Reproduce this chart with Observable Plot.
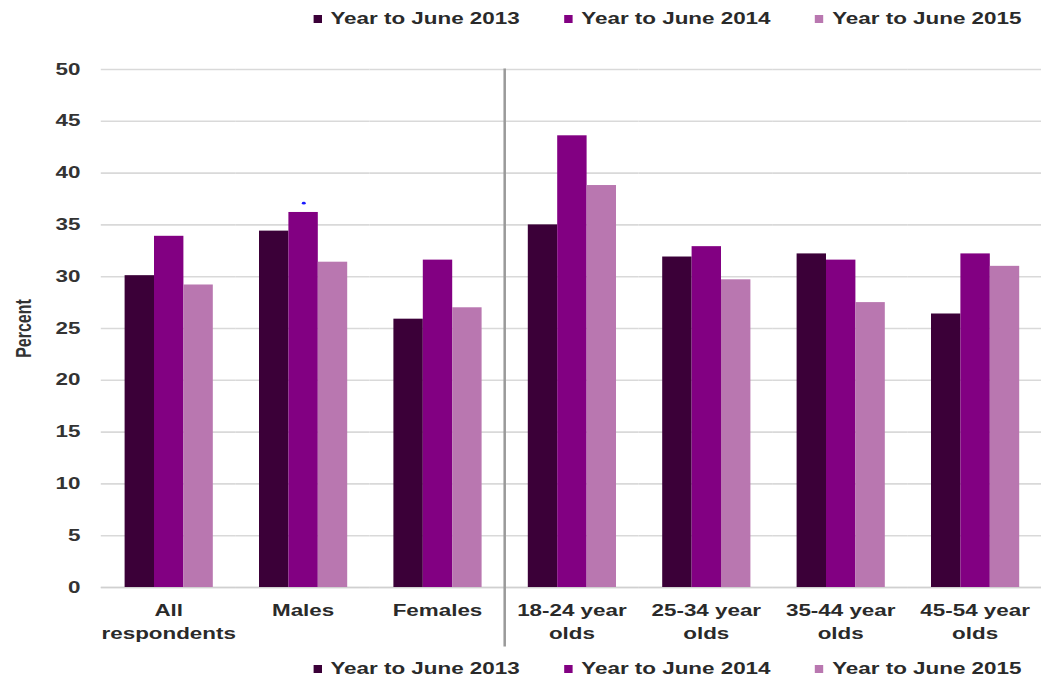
<!DOCTYPE html>
<html>
<head>
<meta charset="utf-8">
<script src="https://cdn.jsdelivr.net/npm/d3@7"></script>
<script src="https://cdn.jsdelivr.net/npm/@observablehq/plot@0.6"></script>
<style>
  html, body { margin: 0; padding: 0; background: #fff; overflow: hidden; width: 1041px; height: 681px; }
  #stage { width: 744px; transform: scaleX(1.4); transform-origin: 0 0; font-family: "Liberation Sans", Arial, sans-serif; color: #333; }
  .legendwrap { height: 38px; display: flex; align-items: center; padding-left: 224px; box-sizing: border-box; width: 744px; }
  .legendwrap.bottom { height: 28px; }
  #stage .lg-swatches { margin: 0 !important; min-height: 0 !important; flex-wrap: nowrap !important; white-space: nowrap; }
  #stage .lg-swatch { margin-right: 32px !important; }
  #stage .lg-swatch > svg { margin-right: 6px !important; }
  svg.chart { display: block; overflow: visible; }
</style>
</head>
<body>
<div id="stage">
  <div class="legendwrap" id="legTop"></div>
  <div id="chart"></div>
  <div class="legendwrap bottom" id="legBottom"></div>
</div>
<script>
// ---- data ----
const categories = ["All respondents", "Males", "Females", "18-24 year olds", "25-34 year olds", "35-44 year olds", "45-54 year olds"];
const tickLabels = ["All\nrespondents", "Males", "Females", "18-24 year\nolds", "25-34 year\nolds", "35-44 year\nolds", "45-54 year\nolds"];
const series = ["Year to June 2013", "Year to June 2014", "Year to June 2015"];
const values2013 = [30.1, 34.4, 25.9, 35.0, 31.9, 32.2, 26.4];
const values2014 = [33.9, 36.2, 31.6, 43.6, 32.9, 31.6, 32.2];
const values2015 = [29.2, 31.4, 27.0, 38.8, 29.7, 27.5, 31.0];
const seriesColors = ["#3b0038", "#820082", "#b977b0"];
const yTicks = [0, 5, 10, 15, 20, 25, 30, 35, 40, 45, 50];
const markerCategory = "Males";
const markerSeries = "Year to June 2014";
const markerValue = 37.1;
const dividerAfter = "Females";

// ---- build table ----
const seriesValues = [values2013, values2014, values2015];
const rows = [];
categories.forEach((c, i) => {
  series.forEach((s, j) => rows.push({category: c, series: s, value: seriesValues[j][i]}));
});
const markers = [{category: markerCategory, series: markerSeries, value: markerValue}];

const font = "'Liberation Sans', Arial, sans-serif";

const plot = Plot.plot({
  width: 744,
  height: 617,
  marginLeft: 72,
  marginRight: 0,
  marginTop: 31,
  marginBottom: 68,
  className: "chart",
  style: {fontFamily: font, fontSize: "15px", color: "#333", background: "transparent", overflow: "visible"},
  fx: {domain: categories, padding: 0, label: null},
  x: {domain: series, paddingInner: 0, paddingOuter: 0.7, axis: null},
  y: {domain: [0, 50], label: null},
  color: {domain: series, range: seriesColors},
  marks: [
    Plot.gridY(yTicks, {stroke: "#d9d9d9", strokeOpacity: 1, strokeWidth: 1.6}),
    Plot.ruleY([0], {stroke: "#d0d0d0", strokeWidth: 1.6}),
    Plot.barY(rows, {fx: "category", x: "series", y: "value", fill: "series"}),
    Plot.dot(markers, {fx: "category", x: "series", y: "value", r: 1.4, fill: "#1a1aff", stroke: null}),
    Plot.frame({fx: () => dividerAfter, anchor: "right", stroke: "#9a9a9a", strokeWidth: 1.8, insetBottom: -58}),
    Plot.axisY(yTicks, {anchor: "left", tickSize: 0, tickPadding: 15, fontSize: 16, fontWeight: "bold", fill: "#333",
      label: "Percent", labelAnchor: "center", labelOffset: 62, labelArrow: "none"}),
    Plot.axisFx({anchor: "bottom", tickSize: 0, tickPadding: 13, fontSize: 16, fontWeight: "bold", fill: "#2a2a2a",
      lineHeight: 1.4, label: null, tickFormat: (d) => tickLabels[categories.indexOf(d)]})
  ]
});
document.getElementById("chart").appendChild(plot);

function makeLegend() {
  return Plot.legend({
    color: {domain: series, range: seriesColors},
    legend: "swatches",
    className: "lg",
    swatchWidth: 6,
    swatchHeight: 8,
    style: {fontSize: "16px", fontWeight: "bold", fontFamily: font, color: "#2a2a2a"}
  });
}
document.getElementById("legTop").appendChild(makeLegend());
document.getElementById("legBottom").appendChild(makeLegend());
</script>
</body>
</html>
